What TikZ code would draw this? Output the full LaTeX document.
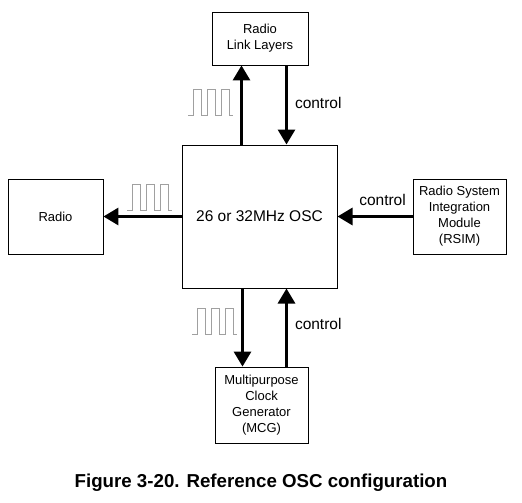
\documentclass[tikz,border=0pt]{standalone}
\usepackage{fontspec}
\setmainfont{Liberation Sans}
\usepackage{tikz}
\usetikzlibrary{arrows.meta}
\definecolor{wavegray}{RGB}{160,160,160}
\definecolor{mydark}{RGB}{0,0,0}
\tikzset{
  block/.style={rectangle, draw=mydark, line width=0.9pt, align=center,
    font=\fontsize{13}{16}\selectfont, inner sep=2pt},
  oscblock/.style={rectangle, draw=mydark, line width=1pt, align=center,
    font=\fontsize{15.5}{18}\selectfont, minimum width=155pt, minimum height=143pt},
  bigarrow/.style={-{Triangle[length=15pt,width=17pt]}, line width=3pt, color=mydark},
  ctrl/.style={font=\fontsize{15.5}{18}\selectfont, inner sep=1pt},
  clkwave/.pic={
    \draw[wavegray, line width=0.7pt] (0,0) -- ++(5,0) -- ++(0,-26) -- ++(8,0)
      -- ++(0,26) -- ++(6,0) -- ++(0,-26) -- ++(8,0) -- ++(0,26) -- ++(6,0)
      -- ++(0,-26) -- ++(8,0) -- ++(0,26) -- ++(4,0);
  }
}

\begin{document}
\begin{tikzpicture}[x=1pt, y=-1pt]
  \useasboundingbox (0,0) rectangle (522,503);

  % Oscillator in the middle
  \node[oscblock] (osc) at (259.5,216.5) {26 or 32MHz OSC};

  % Blocks round it
  \node[block, minimum width=96pt, minimum height=53pt] (rll) at (260,38.5) {Radio\\Link Layers};
  \node[block, minimum width=95pt, minimum height=75pt] (radio) at (55.5,216.5) {Radio};
  \node[block, minimum width=93pt, minimum height=75pt] (rsim) at (459.5,216.5)
    {Radio System\\Integration\\Module\\(RSIM)};
  \node[block, minimum width=93pt, minimum height=76pt] (mcg) at (261.5,405)
    {Multipurpose\\Clock\\Generator\\(MCG)};

  % --- Top ---
  \draw[bigarrow] ([xshift=-18pt]osc.north) -- ([xshift=-18pt]osc.north |- rll.south);
  \draw[bigarrow] ([xshift=27pt]osc.north |- rll.south) -- ([xshift=27pt]osc.north)
    node[ctrl, midway, right=6pt, yshift=2pt] {control};
  \pic at (188,115) {clkwave};

  % --- Left ---
  \draw[bigarrow] (osc.west) -- (radio.east);
  \pic at (127,210) {clkwave};

  % --- Right ---
  \draw[bigarrow] (rsim.west) -- (osc.east)
    node[ctrl, pos=0.4, above=8pt] {control};

  % --- Bottom ---
  \draw[bigarrow] ([xshift=-17pt]osc.south) -- ([xshift=-17pt]osc.south |- mcg.north);
  \draw[bigarrow] ([xshift=27pt]osc.south |- mcg.north) -- ([xshift=27pt]osc.south)
    node[ctrl, midway, right=6pt, yshift=4pt] {control};
  \pic at (192,334) {clkwave};

  % Caption
  \node[font=\fontsize{18.7}{22}\selectfont\bfseries] (cap) at (261,483)
    {Figure 3-20. Reference OSC configuration};
\end{tikzpicture}
\end{document}
